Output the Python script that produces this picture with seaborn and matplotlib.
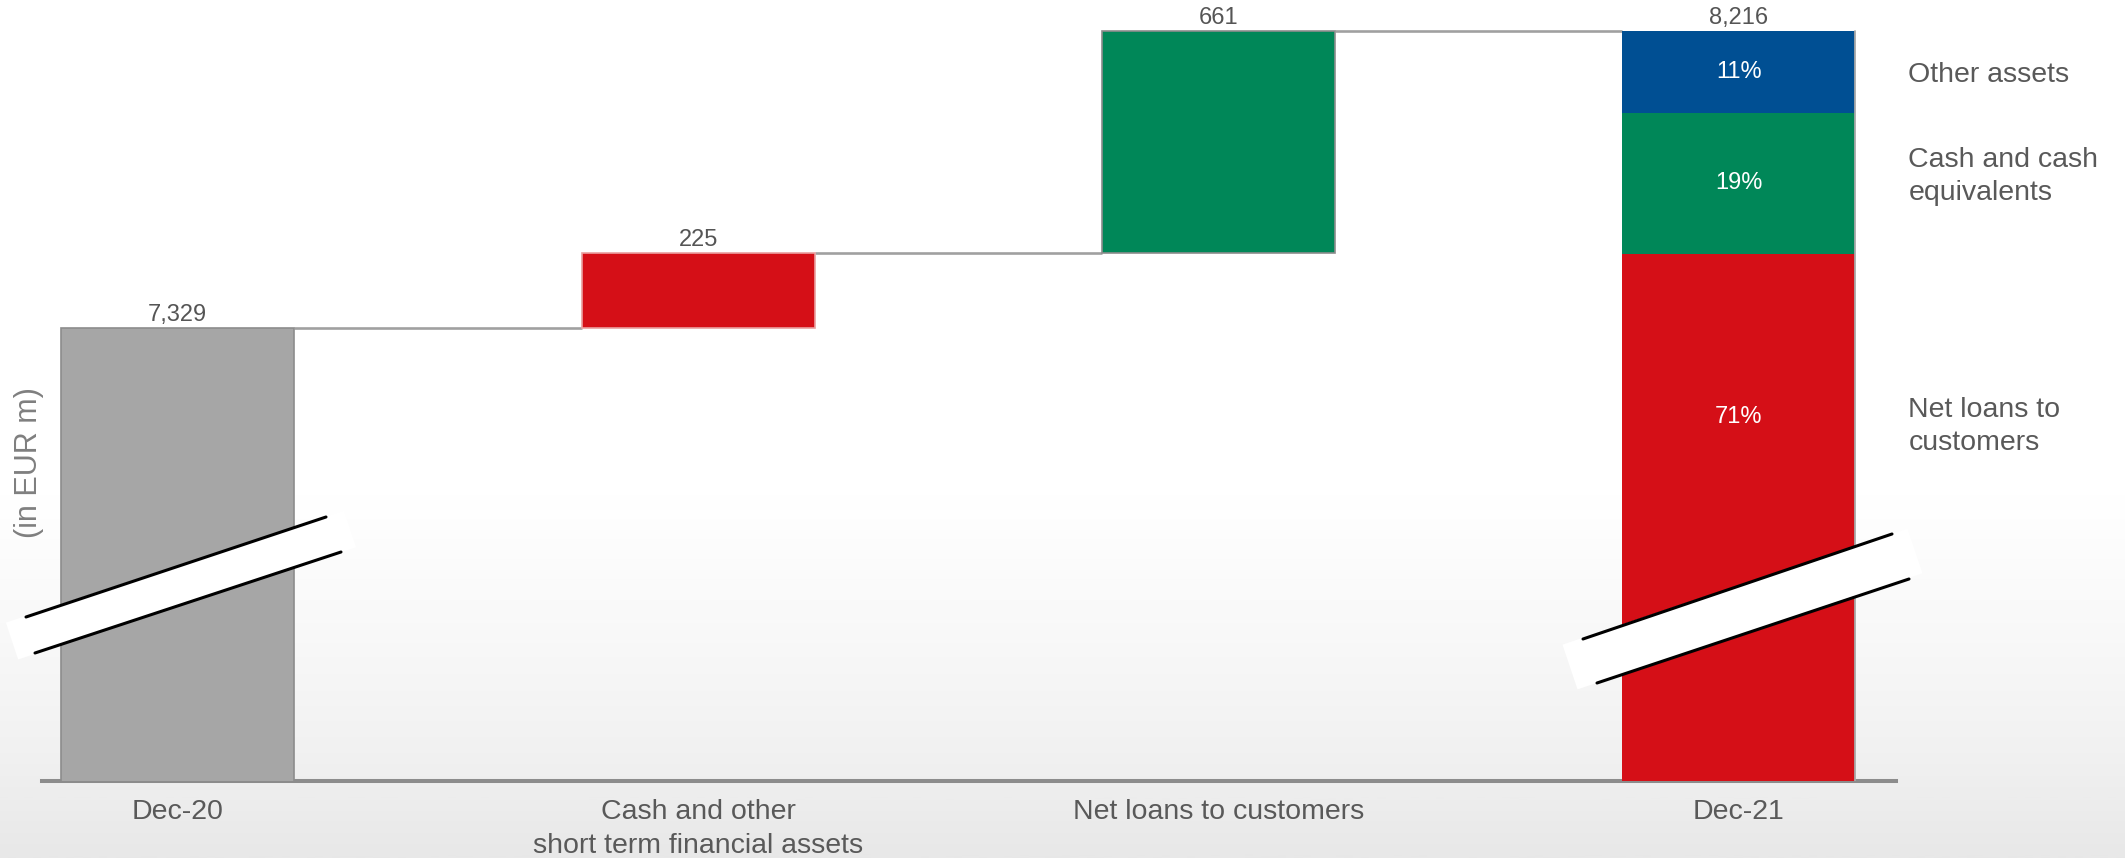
import numpy as np
import pandas as pd
import matplotlib
matplotlib.use("Agg")
import matplotlib.pyplot as plt
from matplotlib.transforms import Affine2D
from matplotlib.colors import LinearSegmentedColormap
import seaborn as sns

# ---------------- data ----------------
categories = ["Dec-20", "Cash and other\nshort term financial assets",
              "Net loans to customers", "Dec-21"]
start_value = 7329
changes = [225, 661]
end_value = 8216
value_labels = ["7,329", "225", "661", "8,216"]

segment_names = ["Net loans to\ncustomers", "Cash and cash\nequivalents", "Other assets"]
segment_shares = [71, 19, 11]          # % of Dec-21 total
segment_labels = ["71%", "19%", "11%"]

# ---------------- style ----------------
sns.set_theme(style="white")
plt.rcParams["font.family"] = ["Liberation Sans", "DejaVu Sans"]

GREY = "#a6a6a6"
RED = "#d50f17"
GREEN = "#008758"
BLUE = "#004f93"
EDGE = "#8c8c8c"
TXT = "#555555"

W, H = 2125, 858
fig = plt.figure(figsize=(W / 100, H / 100), dpi=100)

# background gradient
bg = fig.add_axes([0, 0, 1, 1], zorder=-10)
grad = np.linspace(0, 1, 600).reshape(-1, 1)
cmap = LinearSegmentedColormap.from_list(
    "bg", [(0.0, "#ffffff"), (0.58, "#ffffff"), (0.75, "#f8f8f8"),
           (0.88, "#f1f1f1"), (1.0, "#e8e8e8")])
bg.imshow(grad, aspect="auto", cmap=cmap, extent=[0, 1, 0, 1], origin="upper")
bg.axis("off")

ax = fig.add_axes([42 / W, 77 / H, (1896 - 42) / W, 781 / H])
ax.set_facecolor("none")

# axis range (broken axis: bottom is not zero)
YMIN, YMAX = 5977, 8309
BAR_W = 0.448

# waterfall levels
levels = [start_value]
for c in changes:
    levels.append(levels[-1] + c)

rows = []
rows.append(dict(cat=categories[0], bottom=0, top=start_value, color=GREY, edge=EDGE, lw=1.2))
change_colors = [RED, GREEN]
change_edges = ["#eaa0a0", EDGE]
for i, c in enumerate(changes):
    rows.append(dict(cat=categories[i + 1], bottom=levels[i], top=levels[i + 1],
                     color=change_colors[i], edge=change_edges[i], lw=1.2))

# Dec-21 stack drawn proportionally to its visible height
visible = end_value - YMIN
fracs = np.array(segment_shares, dtype=float) / sum(segment_shares)
seg_colors = [RED, GREEN, BLUE]
seg_bounds = []
cur = YMIN
for f, col in zip(fracs, seg_colors):
    nxt = cur + f * visible
    b = 0 if cur == YMIN else cur
    rows.append(dict(cat=categories[3], bottom=b, top=nxt, color=col, edge="none", lw=0))
    seg_bounds.append((cur, nxt))
    cur = nxt
bars = pd.DataFrame(rows)

for _, r in bars.iterrows():
    n0 = len(ax.patches)
    sns.barplot(x=[r["cat"]], y=[r["top"]], order=categories, color=r["color"],
                saturation=1, width=BAR_W, errorbar=None, ax=ax,
                edgecolor=r["edge"], linewidth=r["lw"], zorder=2)
    for p in ax.patches[n0:]:
        p.set_y(r["bottom"])
        p.set_height(r["top"] - r["bottom"])

# right grey edge on Dec-21 bar
ax.plot([3 + BAR_W / 2] * 2, [YMIN, end_value], color="#a8a8a8", lw=1.3, zorder=3)

# connectors
conn_levels = [start_value, levels[1], levels[2]]
for i, lv in enumerate(conn_levels):
    ax.plot([i + BAR_W / 2, i + 1 - BAR_W / 2], [lv, lv], color="#a0a0a0",
            lw=1.9, zorder=1, solid_capstyle="butt")

# value labels
tops = [start_value, levels[1], levels[2], end_value]
for i, (t, lab) in enumerate(zip(tops, value_labels)):
    ax.text(i, t + 6, lab, ha="center", va="bottom", fontsize=17, color=TXT)

# percentage labels and right-hand names
label_pos = [0.69, 0.5, 0.5]
name_dy = [28, -20, 8]
for (b, t), lab, name, pos, dy in zip(seg_bounds, segment_labels, segment_names,
                                      label_pos, name_dy):
    y = b + pos * (t - b)
    ax.text(3, y, lab, ha="center", va="center", fontsize=17, color="white", zorder=4)
    ax.text(3 + BAR_W / 2 + 0.102, y - dy, name, ha="left", va="center", fontsize=20.5,
            color="#595959", linespacing=1.38, clip_on=False)

ax.set_xlim(-0.261, 3.302)
ax.set_ylim(YMIN, YMAX)
ax.set_xlabel("")
ax.set_ylabel("")
ax.set_yticks([])
ax.tick_params(axis="x", length=0, pad=13, labelsize=20.5, labelcolor="#595959")
for s in ["top", "right", "left"]:
    ax.spines[s].set_visible(False)
ax.spines["bottom"].set_color("#8c8c8c")
ax.spines["bottom"].set_linewidth(2.9)
ax.spines["bottom"].set_zorder(1)
for lbl in ax.get_xticklabels():
    lbl.set_linespacing(1.4)

fig.text(29 / W, (H - 463) / H, "(in EUR m)", rotation=90, ha="center", va="center",
         fontsize=22, color="#7f7f7f")

# axis-break symbols (pixel coordinates, origin top-left)
pix = Affine2D().scale(1, -1).translate(0, H)
breaks = [
    dict(white=((12, 641), (350, 529)), lw=28,
         lines=(((26, 617), (326, 517)), ((35, 653), (341, 552)))),
    dict(white=((1570, 667), (1915, 551)), lw=34,
         lines=(((1583, 639), (1892, 534)), ((1597, 683), (1909, 579)))),
]
for br in breaks:
    (x0, y0), (x1, y1) = br["white"]
    fig.add_artist(plt.Line2D([x0, x1], [y0, y1], transform=pix, color="white",
                              lw=br["lw"], solid_capstyle="butt", zorder=5))
    for (a, b) in br["lines"]:
        fig.add_artist(plt.Line2D([a[0], b[0]], [a[1], b[1]], transform=pix,
                                  color="black", lw=2.2, zorder=6))

fig.savefig("out.png", dpi=100)
